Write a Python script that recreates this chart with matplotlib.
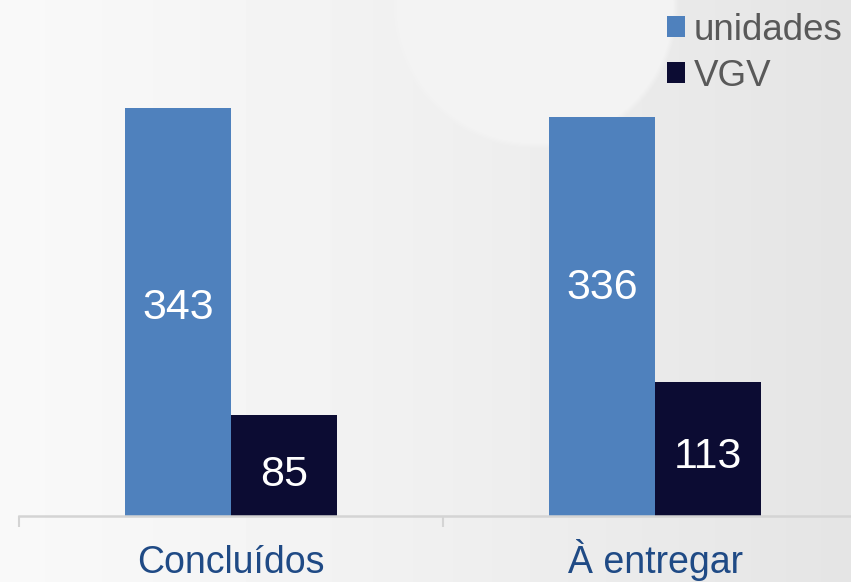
import numpy as np
import matplotlib.pyplot as plt

categories = ["Concluídos", "À entregar"]
unidades = [343, 336]
vgv = [85, 113]
series_names = ["unidades", "VGV"]
# where each value label sits, as a share of its bar height
label_pos_unid = [0.51, 0.57]
label_pos_vgv = [0.41, 0.44]

BLUE = "#4F81BD"
NAVY = "#0C0C33"
CAT_COLOR = "#1F4A85"

plt.rcParams['font.family'] = ['Liberation Sans', 'DejaVu Sans']

fig = plt.figure(figsize=(8.51, 5.82), dpi=100)

# background: soft grey gradient with a lighter arc near the top
W, H = 851, 582
xx, yy = np.meshgrid(np.arange(W), np.arange(H))
bg = 0.975 - 0.08 * (xx / W) ** 1.2
d = np.hypot(xx - 535, yy - 5)
inside = np.clip((143 - d) / 6.0, 0, 1)
bg = bg + inside * np.clip(0.952 - bg, 0, None)
bg_ax = fig.add_axes([0, 0, 1, 1], zorder=0)
bg_ax.imshow(bg, cmap="gray", vmin=0, vmax=1, aspect="auto", interpolation="bilinear")
bg_ax.axis("off")

ax = fig.add_axes([0, 66 / 582, 1, 516 / 582], zorder=1)
ax.patch.set_alpha(0)

x = np.arange(len(categories))
w = 0.25
ax.bar(x - w / 2, unidades, w, color=BLUE, label=series_names[0])
ax.bar(x + w / 2, vgv, w, color=NAVY, label=series_names[1])

for xi, v, f in zip(x, unidades, label_pos_unid):
    ax.text(xi - w / 2, v * f, str(v), ha="center", va="center", color="white", fontsize=31)
for xi, v, f in zip(x, vgv, label_pos_vgv):
    ax.text(xi + w / 2, v * f, str(v), ha="center", va="center", color="white", fontsize=31)

for s in ["top", "right", "left"]:
    ax.spines[s].set_visible(False)
ax.spines["bottom"].set_color("#d4d4d4")
ax.spines["bottom"].set_linewidth(1.8)
ax.spines["bottom"].set_bounds(-0.5, 1.6)
ax.set_yticks([])

ax.set_xticks(x)
ax.set_xticklabels(categories, fontsize=27, color=CAT_COLOR, va="baseline")
ax.tick_params(axis="x", which="major", length=0, pad=41)
ax.set_xticks([-0.5, 0.5, 1.5], minor=True)
ax.tick_params(axis="x", which="minor", length=8, width=1.5, color="#d4d4d4")

ax.set_xlim(-231 / 424, 620 / 424)
ax.set_ylim(0, 434)

ax.legend(loc="upper right", bbox_to_anchor=(843 / 851, 1 - 13 / 582),
          bbox_transform=fig.transFigure, frameon=False, fontsize=26.5,
          labelcolor="#595959", handlelength=0.5, handleheight=0.5,
          handletextpad=0.25, labelspacing=0.3, borderaxespad=0.0, borderpad=0.0)

fig.savefig("out.png", dpi=100)
